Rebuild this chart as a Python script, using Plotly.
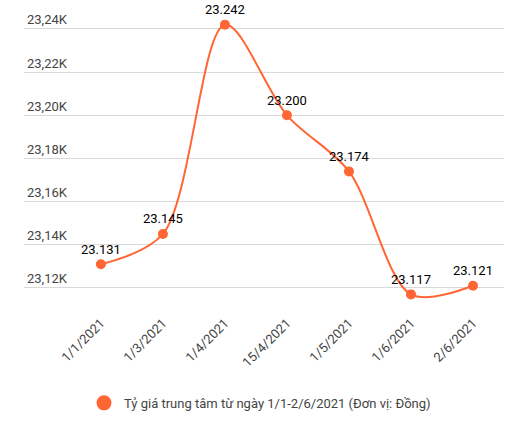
import plotly.graph_objects as go

dates = ["1/1/2021", "1/3/2021", "1/4/2021", "15/4/2021", "1/5/2021", "1/6/2021", "2/6/2021"]
rates = [23131, 23145, 23242, 23200, 23174, 23117, 23121]
series_name = "Tỷ giá trung tâm từ ngày 1/1-2/6/2021 (Đơn vị: Đồng)"

y_ticks = [23120, 23140, 23160, 23180, 23200, 23220, 23240]
y_ticktext = ["23,12K", "23,14K", "23,16K", "23,18K", "23,20K", "23,22K", "23,24K"]

orange = "#ff6633"

fig = go.Figure()
fig.add_trace(go.Scatter(
    x=dates, y=rates,
    mode="lines+markers+text",
    line=dict(color=orange, width=2, shape="spline", smoothing=0.9),
    marker=dict(color=orange, size=10),
    texttemplate="%{y:,}",
    textposition="top center",
    textfont=dict(family="Roboto", size=13, color="#000000"),
    showlegend=False,
    cliponaxis=False,
))
# legend entry only (bigger dot, no line)
fig.add_trace(go.Scatter(
    x=[None], y=[None], mode="markers", name=series_name,
    marker=dict(color=orange, size=15),
))

fig.update_layout(
    width=520, height=425,
    margin=dict(l=24, r=16, t=10, b=125),
    paper_bgcolor="white", plot_bgcolor="white",
    separators=",.",
    font=dict(family="Roboto", size=13, color="#444444"),
    xaxis=dict(
        type="category",
        range=[-1.24, 6.5],
        tickangle=-45,
        automargin=False,
        showgrid=False, zeroline=False, showline=False,
        ticklabelstandoff=12,
        tickfont=dict(size=13, color="#444444"),
    ),
    yaxis=dict(
        range=[23114.4, 23248.8],
        tickvals=y_ticks, ticktext=y_ticktext,
        ticklabelposition="inside top",
        automargin=False,
        showgrid=True, gridcolor="#d9d9d9", gridwidth=1,
        zeroline=False, showline=False,
        tickfont=dict(size=13, color="#444444"),
    ),
    legend=dict(
        orientation="h", xref="container", yref="container",
        x=0.5, xanchor="center", y=0.052, yanchor="middle",
        font=dict(size=13, color="#444444"),
    ),
)

# drop the page's default body margin so the figure sits at the top-left corner
fig.write_html("out.html", config={"displayModeBar": False},
               post_script="document.body.style.margin='0';")
